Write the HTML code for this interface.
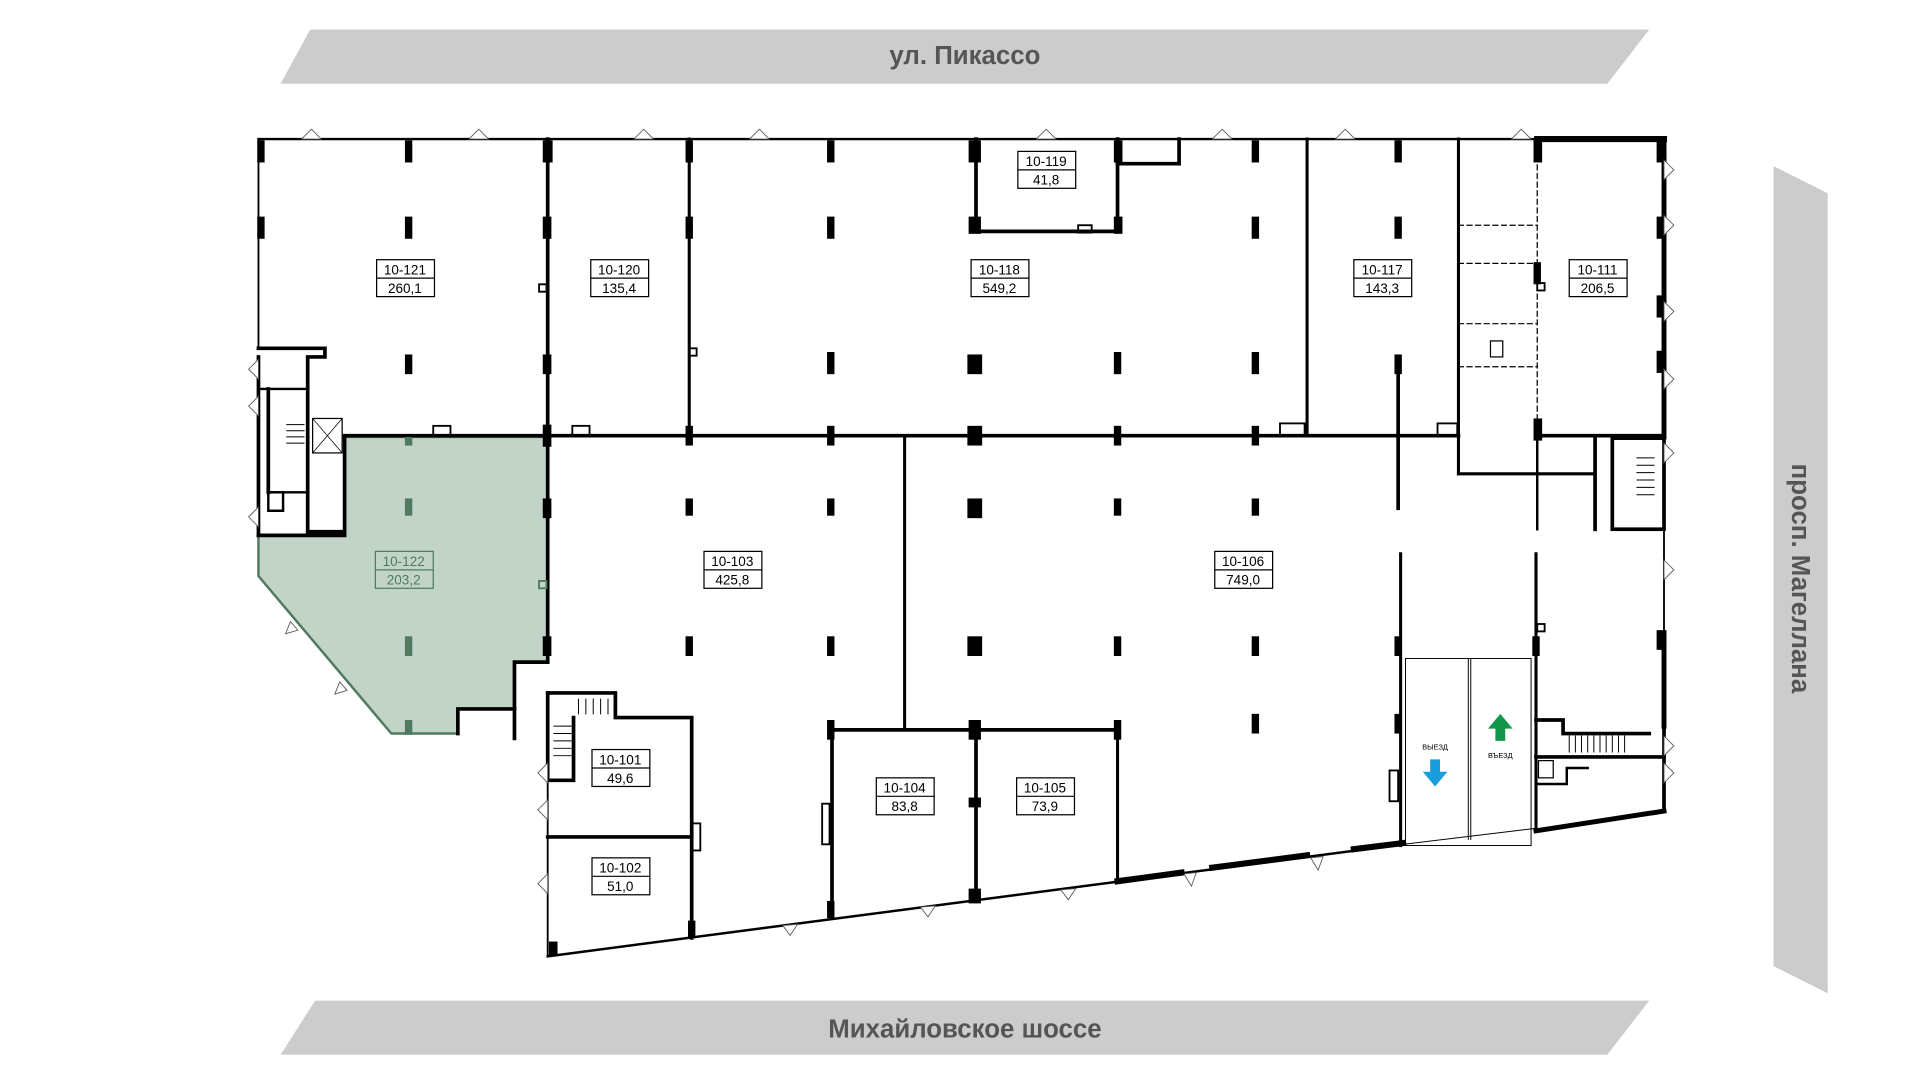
<!DOCTYPE html>
<html><head><meta charset="utf-8"><style>
html,body{margin:0;padding:0;background:#fff;width:1920px;height:1080px;overflow:hidden}
svg{display:block}
text{font-family:"Liberation Sans","DejaVu Sans",sans-serif}
</style></head><body>
<svg width="1920" height="1080" viewBox="0 0 1560 877.5" xmlns="http://www.w3.org/2000/svg">
<!-- streets -->
<polygon points="228,68 252,24 1340,24 1306,68" fill="#cccccc"/>
<text x="784" y="52" text-anchor="middle" font-size="21" font-weight="bold" fill="#555">ул. Пикассо</text>
<polygon points="228,857 256,813 1340,813 1306,857" fill="#cccccc"/>
<text x="784" y="843" text-anchor="middle" font-size="21" font-weight="bold" fill="#555">Михайловское шоссе</text>
<polygon points="1441,135 1485,157 1485,807 1441,785" fill="#cccccc"/>
<text transform="translate(1456,470) rotate(90)" text-anchor="middle" font-size="21" font-weight="bold" fill="#555">просп. Магеллана</text>

<!-- green unit -->
<polygon points="280,355 445,355 445,538 418,538 418,576 372,576 372,596 318,596 210,468 210,435 280,435" fill="#c2d4c8" stroke="#4f7a5f" stroke-width="2"/>

<g fill="none" stroke="#000" stroke-linecap="square">
<!-- top wall -->
<line x1="210" y1="113" x2="1352" y2="113" stroke-width="2"/>
<line x1="1249" y1="113" x2="1352" y2="113" stroke-width="5"/>
<line x1="210" y1="113" x2="210" y2="283" stroke-width="1.5"/>
<!-- right outer -->
<line x1="1352" y1="113" x2="1352" y2="355" stroke-width="4"/>
<line x1="1352" y1="432" x2="1352" y2="515" stroke-width="1.5"/>
<line x1="1352" y1="515" x2="1352" y2="590" stroke-width="4"/>
<line x1="1352" y1="590" x2="1352" y2="658" stroke-width="3"/>
<!-- main horizontal -->
<line x1="280" y1="354" x2="1185" y2="354" stroke-width="3"/>
<!-- verticals upper -->
<line x1="445" y1="113" x2="445" y2="538" stroke-width="3"/>
<line x1="560" y1="113" x2="560" y2="354" stroke-width="2.5"/>
<line x1="1062" y1="113" x2="1062" y2="354" stroke-width="2.5"/>
<line x1="1185" y1="113" x2="1185" y2="385" stroke-width="2.5"/>
<line x1="1185" y1="385" x2="1296" y2="385" stroke-width="2.5"/>
<line x1="1249" y1="113" x2="1249" y2="385" stroke-width="1" stroke-dasharray="4,3"/>
<line x1="1249" y1="354" x2="1352" y2="354" stroke-width="3"/>
<!-- 10-119 -->
<polyline points="793,113 793,188 908,188 908,113" stroke-width="3"/>
<polyline points="908,133 958,133 958,113" stroke-width="3"/>
<!-- toilets area -->
<polyline points="1185,183 1249,183" stroke-width="1" stroke-dasharray="4,3"/>
<polyline points="1185,214 1249,214" stroke-width="1" stroke-dasharray="4,3"/>
<polyline points="1185,263 1249,263" stroke-width="1" stroke-dasharray="4,3"/>
<polyline points="1185,298 1249,298" stroke-width="1" stroke-dasharray="4,3"/>
<rect x="1211" y="277" width="10" height="13" stroke-width="1"/>
<!-- right stair -->
<rect x="1310" y="356" width="42" height="74" stroke-width="3"/>
<path d="M1330,372 h14 M1330,378 h14 M1330,384 h14 M1330,390 h14 M1330,396 h14 M1330,402 h14" stroke-width="0.8"/>
<line x1="1296" y1="355" x2="1296" y2="430" stroke-width="3"/>
<!-- lower verticals -->
<line x1="735" y1="354" x2="735" y2="593" stroke-width="2.5"/>
<line x1="676" y1="593" x2="908" y2="593" stroke-width="3"/>
<line x1="676" y1="593" x2="676" y2="745" stroke-width="3"/>
<line x1="793" y1="593" x2="793" y2="731" stroke-width="3"/>
<line x1="908" y1="593" x2="908" y2="716" stroke-width="2.5"/>
<line x1="1138" y1="450" x2="1138" y2="687" stroke-width="2.5"/>
<line x1="1248" y1="450" x2="1248" y2="675" stroke-width="2.5"/>
<line x1="1136" y1="290" x2="1136" y2="413" stroke-width="3"/>
<line x1="1249" y1="354" x2="1249" y2="430" stroke-width="2"/>
<!-- ramp -->
<rect x="1142" y="535" width="102" height="152" stroke-width="0.8" fill="none"/>
<line x1="1193" y1="535" x2="1193" y2="682" stroke-width="0.8"/>
<line x1="1195" y1="535" x2="1195" y2="682" stroke-width="0.8"/>
<!-- left lower wall / step -->
<polyline points="445,538 418,538 418,600" stroke-width="3"/>
<polyline points="372,596 372,576 418,576" stroke-width="3"/>
<!-- left stair tower -->
<polyline points="210,283 264,283 264,290 250,290 250,432 280,432 280,355" stroke-width="3"/>
<polyline points="210,290 210,435" stroke-width="3"/>
<line x1="210" y1="316" x2="250" y2="316" stroke-width="2"/>
<line x1="218" y1="316" x2="218" y2="400" stroke-width="3"/>
<line x1="218" y1="400" x2="250" y2="400" stroke-width="2"/>
<rect x="218" y="400" width="12" height="15" stroke-width="2"/>
<rect x="254" y="340" width="24" height="28" stroke-width="1"/>
<path d="M254,340 L278,368 M278,340 L254,368" stroke-width="0.6"/>
<path d="M233,345 h14 M233,350 h14 M233,355 h14 M233,360 h14" stroke-width="0.8"/>
<line x1="210" y1="435" x2="280" y2="435" stroke-width="3"/>
<!-- 10-101/102 -->
<polyline points="445,600 445,777" stroke-width="1.5"/>
<polyline points="445,563 500,563 500,583 562,583 562,762" stroke-width="3"/>
<polyline points="445,563 445,634 466,634 466,583" stroke-width="3"/>
<line x1="445" y1="680" x2="562" y2="680" stroke-width="3"/>
<rect x="562" y="669" width="7" height="22" stroke-width="1.5"/>
<path d="M470,568 v12 M476,568 v12 M482,568 v12 M488,568 v12 M494,568 v12 M450,590 h14 M450,596 h14 M450,602 h14 M450,608 h14 M450,614 h14" stroke-width="0.8"/>
<!-- bottom slanted -->
<line x1="445" y1="777" x2="1140" y2="686" stroke-width="2"/>
<line x1="908" y1="716" x2="960" y2="709" stroke-width="5"/>
<line x1="985" y1="705" x2="1062" y2="695" stroke-width="5"/>
<line x1="1100" y1="690" x2="1140" y2="685" stroke-width="5"/>
<line x1="1140" y1="686" x2="1248" y2="673" stroke-width="0.8"/>
<line x1="1248" y1="675" x2="1352" y2="659" stroke-width="4"/>
<!-- lower right stair -->
<polyline points="1248,585 1270,585 1270,596 1340,596" stroke-width="3"/>
<line x1="1248" y1="615" x2="1352" y2="615" stroke-width="3"/>
<path d="M1275,598 v13 M1280,598 v13 M1285,598 v13 M1290,598 v13 M1295,598 v13 M1300,598 v13 M1305,598 v13 M1310,598 v13 M1315,598 v13 M1320,598 v13" stroke-width="0.8"/>
<rect x="1250" y="618" width="12" height="14" stroke-width="1"/>
<polyline points="1248,637 1273,637 1273,624 1290,624" stroke-width="2"/>
<!-- small niches -->
<rect x="352" y="346" width="14" height="8" stroke-width="1.5"/>
<rect x="465" y="346" width="14" height="8" stroke-width="1.5"/>
<rect x="1040" y="344" width="20" height="10" stroke-width="1.5"/>
<rect x="1168" y="344" width="16" height="10" stroke-width="1.5"/>
<rect x="876" y="183" width="11" height="6" stroke-width="1.5"/>
<rect x="438" y="231" width="6" height="6" stroke-width="1.5"/>
<rect x="560" y="283" width="6" height="6" stroke-width="1.5"/>
<rect x="1249" y="230" width="6" height="6" stroke-width="1.5"/>
<rect x="1249" y="507" width="6" height="6" stroke-width="1.5"/>
<rect x="668" y="653" width="6" height="33" stroke-width="1.5"/>
<rect x="1129" y="626" width="7" height="25" stroke-width="1.5"/>
</g>
<rect x="438" y="472" width="6" height="6" fill="none" stroke="#4f7a5f" stroke-width="1.5"/>

<!-- columns -->
<g fill="#000">
<rect x="209" y="114" width="6" height="18"/><rect x="329" y="114" width="6" height="18"/><rect x="441" y="114" width="8" height="18"/><rect x="557" y="114" width="6" height="18"/><rect x="672" y="114" width="6" height="18"/><rect x="787" y="114" width="10" height="18"/><rect x="905" y="114" width="7" height="18"/><rect x="1017" y="114" width="6" height="18"/><rect x="1133" y="114" width="6" height="18"/><rect x="1246" y="114" width="7" height="18"/><rect x="1346" y="114" width="8" height="18"/>
<rect x="209" y="176" width="6" height="18"/><rect x="329" y="176" width="6" height="18"/><rect x="441" y="176" width="7" height="18"/><rect x="557" y="176" width="6" height="18"/><rect x="672" y="176" width="6" height="18"/><rect x="787" y="176" width="10" height="14"/><rect x="905" y="176" width="7" height="14"/><rect x="1017" y="176" width="6" height="18"/><rect x="1133" y="176" width="6" height="18"/><rect x="1246" y="213" width="6" height="18"/><rect x="1346" y="176" width="8" height="18"/>
<rect x="329" y="288" width="6" height="16"/><rect x="441" y="288" width="7" height="16"/><rect x="672" y="286" width="6" height="18"/><rect x="786" y="288" width="12" height="16"/><rect x="905" y="286" width="6" height="18"/><rect x="1017" y="286" width="6" height="18"/><rect x="1133" y="288" width="6" height="16"/><rect x="1346" y="240" width="8" height="18"/><rect x="1346" y="285" width="8" height="18"/>
<rect x="441" y="345" width="7" height="18"/><rect x="557" y="346" width="6" height="16"/><rect x="672" y="346" width="6" height="16"/><rect x="786" y="346" width="12" height="16"/><rect x="905" y="346" width="6" height="16"/><rect x="1017" y="346" width="6" height="16"/><rect x="1246" y="340" width="7" height="18"/>
<rect x="441" y="405" width="7" height="16"/><rect x="557" y="405" width="6" height="14"/><rect x="672" y="405" width="6" height="14"/><rect x="786" y="405" width="12" height="16"/><rect x="905" y="405" width="6" height="14"/><rect x="1017" y="405" width="6" height="14"/>
<rect x="441" y="517" width="7" height="16"/><rect x="557" y="517" width="6" height="16"/><rect x="672" y="517" width="6" height="16"/><rect x="786" y="517" width="12" height="16"/><rect x="905" y="517" width="6" height="16"/><rect x="1017" y="517" width="6" height="16"/><rect x="1133" y="517" width="6" height="16"/><rect x="1245" y="517" width="6" height="16"/><rect x="1346" y="512" width="8" height="16"/>
<rect x="1017" y="580" width="6" height="16"/><rect x="672" y="585" width="6" height="16"/><rect x="787" y="585" width="10" height="16"/><rect x="905" y="585" width="6" height="16"/><rect x="1133" y="580" width="6" height="16"/>
<rect x="787" y="648" width="10" height="8"/><rect x="672" y="732" width="6" height="14"/><rect x="787" y="722" width="10" height="12"/><rect x="559" y="748" width="6" height="14"/><rect x="446" y="765" width="7" height="12"/>
</g>
<g fill="#4f7a5f">
<rect x="329" y="405" width="6" height="14"/><rect x="329" y="517" width="6" height="16"/><rect x="329" y="585" width="6" height="12"/><rect x="329" y="355" width="6" height="7"/>
</g>

<!-- labels -->
<g font-size="11" text-anchor="middle">
<g stroke="#000" stroke-width="1" fill="#fff">
<rect x="306" y="211" width="47" height="30"/><rect x="480" y="211" width="47" height="30"/><rect x="789" y="211" width="47" height="30"/><rect x="827" y="123" width="47" height="30"/><rect x="1100" y="211" width="47" height="30"/><rect x="1275" y="211" width="47" height="30"/><rect x="572" y="448" width="47" height="30"/><rect x="987" y="448" width="47" height="30"/><rect x="481" y="609" width="47" height="30"/><rect x="481" y="697" width="47" height="30"/><rect x="712" y="632" width="47" height="30"/><rect x="826" y="632" width="47" height="30"/>
</g>
<g stroke="#000" stroke-width="1">
<line x1="306" y1="226" x2="353" y2="226"/><line x1="480" y1="226" x2="527" y2="226"/><line x1="789" y1="226" x2="836" y2="226"/><line x1="827" y1="138" x2="874" y2="138"/><line x1="1100" y1="226" x2="1147" y2="226"/><line x1="1275" y1="226" x2="1322" y2="226"/><line x1="572" y1="463" x2="619" y2="463"/><line x1="987" y1="463" x2="1034" y2="463"/><line x1="481" y1="624" x2="528" y2="624"/><line x1="481" y1="712" x2="528" y2="712"/><line x1="712" y1="647" x2="759" y2="647"/><line x1="826" y1="647" x2="873" y2="647"/>
</g>
<rect x="305" y="448" width="47" height="30" fill="none" stroke="#4f7a5f"/><line x1="305" y1="463" x2="352" y2="463" stroke="#4f7a5f"/>
<text x="329" y="223">10-121</text><text x="329" y="238">260,1</text>
<text x="503" y="223">10-120</text><text x="503" y="238">135,4</text>
<text x="812" y="223">10-118</text><text x="812" y="238">549,2</text>
<text x="850" y="135">10-119</text><text x="850" y="150">41,8</text>
<text x="1123" y="223">10-117</text><text x="1123" y="238">143,3</text>
<text x="1298" y="223">10-111</text><text x="1298" y="238">206,5</text>
<text x="595" y="460">10-103</text><text x="595" y="475">425,8</text>
<text x="1010" y="460">10-106</text><text x="1010" y="475">749,0</text>
<text x="504" y="621">10-101</text><text x="504" y="636">49,6</text>
<text x="504" y="709">10-102</text><text x="504" y="724">51,0</text>
<text x="735" y="644">10-104</text><text x="735" y="659">83,8</text>
<text x="849" y="644">10-105</text><text x="849" y="659">73,9</text>
<g fill="#4f7a5f"><text x="328" y="460">10-122</text><text x="328" y="475">203,2</text></g>
</g>

<!-- ramp arrows -->
<text x="1166" y="609" font-size="6" text-anchor="middle">ВЫЕЗД</text>
<text x="1219" y="616" font-size="6" text-anchor="middle">ВЪЕЗД</text>
<polygon points="1162,617 1170,617 1170,627 1176,627 1166,639 1156,627 1162,627" fill="#1a9ddb"/>
<polygon points="1215,602 1223,602 1223,592 1229,592 1219,580 1209,592 1215,592" fill="#14964a"/>

<!-- door swings (simplified) -->
<g fill="#fff" stroke="#555" stroke-width="0.7">
<path d="M245,113 l8,-8 l8,8 z"/><path d="M381,113 l8,-8 l8,8 z"/><path d="M515,113 l8,-8 l8,8 z"/><path d="M609,113 l8,-8 l8,8 z"/><path d="M842,113 l8,-8 l8,8 z"/><path d="M985,113 l8,-8 l8,8 z"/><path d="M1085,113 l8,-8 l8,8 z"/><path d="M1228,113 l8,-8 l8,8 z"/>
<path d="M210,292 l-8,8 l8,8 z"/><path d="M210,322 l-8,8 l8,8 z"/><path d="M210,412 l-8,8 l8,8 z"/>
<path d="M1352,130 l8,8 l-8,8 z"/><path d="M1352,175 l8,8 l-8,8 z"/><path d="M1352,245 l8,8 l-8,8 z"/><path d="M1352,300 l8,8 l-8,8 z"/><path d="M1352,360 l8,8 l-8,8 z"/><path d="M1352,455 l8,8 l-8,8 z"/><path d="M1352,598 l8,8 l-8,8 z"/><path d="M1352,620 l8,8 l-8,8 z"/>
<path d="M445,620 l-8,8 l8,8 z"/><path d="M445,650 l-8,8 l8,8 z"/><path d="M445,710 l-8,8 l8,8 z"/>
<path d="M636,752 l6,8 l6,-9 z"/><path d="M748,737 l6,8 l6,-9 z"/><path d="M862,723 l6,8 l6,-9 z"/><path d="M962,710 l6,10 l4,-11 z"/><path d="M1065,697 l6,10 l4,-11 z"/>
<path d="M236,505 l-4,10 l10,-3 z"/><path d="M276,554 l-4,10 l10,-3 z"/>
</g>
</svg>
</body></html>
